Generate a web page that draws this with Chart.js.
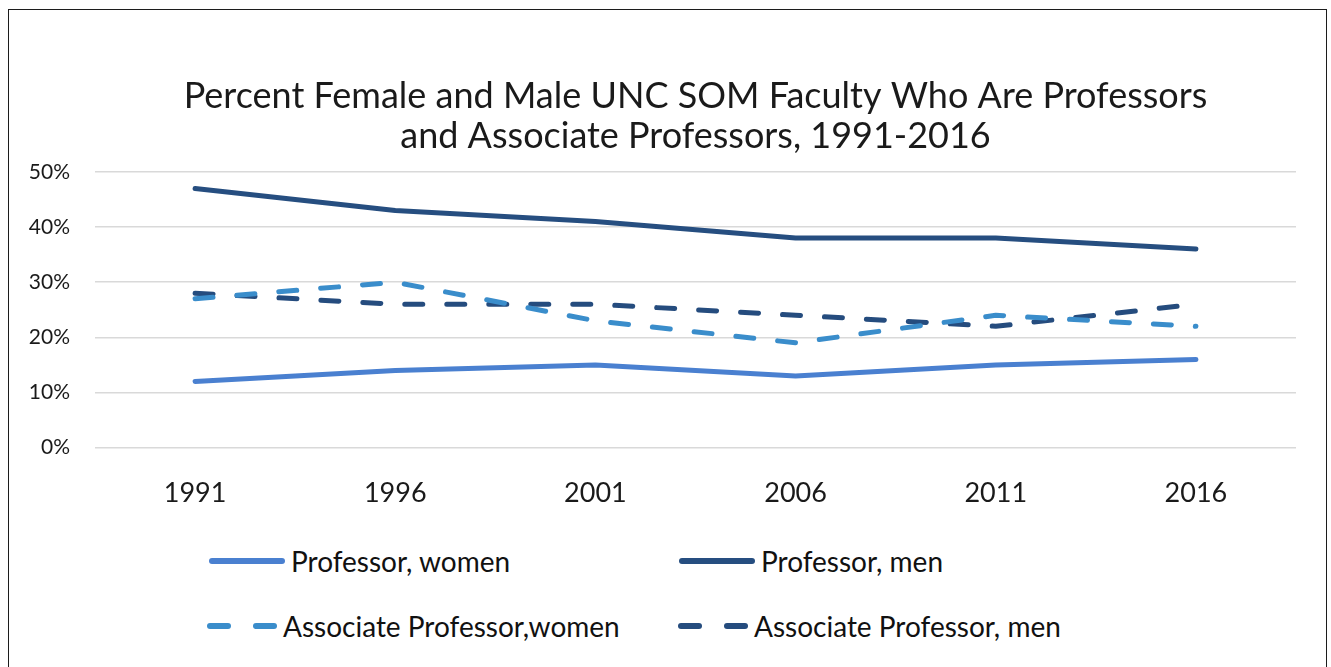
<!DOCTYPE html>
<html>
<head>
<meta charset="utf-8">
<script src="https://cdn.jsdelivr.net/npm/chart.js@4"></script>
<style>
  body { margin: 0; background: #fff; font-family: Lato, "Open Sans", sans-serif; }
  #frame { position: absolute; left: 8px; top: 9px; width: 1319px; height: 700px; border: 1.5px solid #1c1c1c; box-sizing: border-box; }
  #wrap { position: absolute; left: 0; top: 0; width: 1331px; height: 544px; }
  .leg { position: absolute; display: flex; align-items: center; font-size: 28px; color: #111; white-space: nowrap; }
  .seg { display: inline-block; height: 6px; border-radius: 3px; }
</style>
</head>
<body>
<div id="frame"></div>
<div id="wrap"><canvas id="grafico"></canvas></div>
<div id="legenda"></div>
<script>
const anos = ["1991", "1996", "2001", "2006", "2011", "2016"];
const profMulheres = [12, 14, 15, 13, 15, 16];
const profHomens = [47, 43, 41, 38, 38, 36];
const assocMulheres = [27, 30, 23, 19, 24, 22];
const assocHomens = [28, 26, 26, 24, 22, 26];
const yTicks = [0, 10, 20, 30, 40, 50];

const series = [
  { label: "Professor, women", data: profMulheres, cor: "#4a80d0", tracejado: false, x: 209, y: 561 },
  { label: "Professor, men", data: profHomens, cor: "#264e80", tracejado: false, x: 679, y: 561 },
  { label: "Associate Professor,women", data: assocMulheres, cor: "#3a8dcb", tracejado: true, x: 207, y: 626 },
  { label: "Associate Professor, men", data: assocHomens, cor: "#254c7e", tracejado: true, x: 678, y: 626 }
];

new Chart(document.getElementById("grafico"), {
  type: "line",
  data: {
    labels: anos,
    datasets: series.map(s => ({
      label: s.label,
      data: s.data,
      borderColor: s.cor,
      backgroundColor: s.cor,
      borderWidth: 5,
      borderCapStyle: "round",
      borderJoinStyle: "round",
      borderDash: s.tracejado ? [18, 24] : [],
      pointRadius: 0,
      tension: 0
    }))
  },
  options: {
    responsive: true,
    maintainAspectRatio: false,
    animation: false,
    layout: { padding: { left: 0, right: 35, top: 0, bottom: 14 } },
    plugins: {
      legend: { display: false },
      tooltip: { enabled: false },
      title: {
        display: true,
        fullSize: false, // centraliza sobre a area do grafico
        text: ["Percent Female and Male UNC SOM Faculty Who Are Professors", "and Associate Professors, 1991-2016"],
        color: "#1a1a1a",
        font: { family: "Lato", size: 36, weight: "normal", lineHeight: 1.11 },
        padding: { top: 76, bottom: 16 }
      }
    },
    scales: {
      x: {
        offset: true,
        grid: { display: false },
        border: { display: false },
        ticks: { color: "#1a1a1a", font: { family: "Lato", size: 27 }, padding: 21 }
      },
      y: {
        min: 0,
        max: 50,
        afterFit: scale => { scale.width = 95; },
        afterBuildTicks: scale => { scale.ticks = yTicks.map(v => ({ value: v })); },
        grid: { color: "#d9d9d9", lineWidth: 1.5, drawTicks: false },
        border: { display: false },
        ticks: { color: "#1a1a1a", font: { family: "Lato", size: 21 }, padding: 25, callback: v => v + "%" }
      }
    }
  }
});

// legenda em HTML, montada a partir das series
const legenda = document.getElementById("legenda");
series.forEach(s => {
  const item = document.createElement("div");
  item.className = "leg";
  item.style.left = s.x + "px";
  item.style.top = (s.y - 17) + "px";
  item.style.height = "34px";
  const linha = document.createElement("span");
  linha.style.display = "inline-flex";
  linha.style.marginRight = "6px";
  if (s.tracejado) {
    linha.style.width = "70px";
    linha.style.justifyContent = "space-between";
    for (let i = 0; i < 2; i++) {
      const seg = document.createElement("span");
      seg.className = "seg";
      seg.style.width = "24px";
      seg.style.background = s.cor;
      linha.appendChild(seg);
    }
  } else {
    const seg = document.createElement("span");
    seg.className = "seg";
    seg.style.width = "76px";
    seg.style.background = s.cor;
    linha.appendChild(seg);
  }
  item.appendChild(linha);
  const texto = document.createElement("span");
  texto.textContent = s.label;
  item.appendChild(texto);
  legenda.appendChild(item);
});
</script>
</body>
</html>
